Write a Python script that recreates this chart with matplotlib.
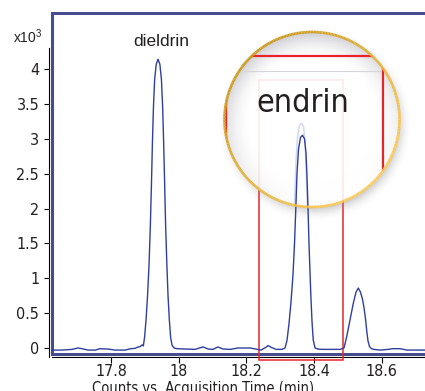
import numpy as np
import matplotlib
matplotlib.use('Agg')
import matplotlib.pyplot as plt
import matplotlib.transforms as mtransforms
from matplotlib import font_manager
from matplotlib.patches import Circle, Rectangle
from matplotlib.lines import Line2D
from matplotlib.collections import LineCollection

# chromatogram trace: acquisition time (min) vs counts (x10^3)
time_min = [
    17.626, 17.655, 17.685, 17.702, 17.714, 17.732, 17.753, 17.767, 17.791, 17.812,
    17.841, 17.859, 17.871, 17.880, 17.886, 17.892,
    # dieldrin
    17.8954, 17.8990, 17.9034, 17.9079, 17.9123, 17.9161, 17.9194, 17.9223, 17.9253,
    17.9288, 17.9336, 17.9389, 17.9442, 17.9489, 17.9525, 17.9554, 17.9584, 17.9613,
    17.9649, 17.9684, 17.9723, 17.9761, 17.9803, 17.9862, 17.9950,
    18.048, 18.072, 18.087, 18.101, 18.116, 18.131, 18.152, 18.175, 18.211, 18.228,
    18.243, 18.258, 18.264, 18.273, 18.288, 18.305,
    # endrin
    18.3142, 18.3201, 18.3260, 18.3319, 18.3378, 18.3423, 18.3461, 18.3496, 18.3541,
    18.3600, 18.3659, 18.3718, 18.3762, 18.3792, 18.3822, 18.3851, 18.3881, 18.3911,
    18.3940, 18.3975, 18.4029, 18.4117,
    18.423, 18.447, 18.477,
    # unknown late peak
    18.4885, 18.4965, 18.5063, 18.5160, 18.5240, 18.5308, 18.5373, 18.5432, 18.5476,
    18.5521, 18.5559, 18.5595, 18.5639, 18.5698, 18.5772,
    18.595, 18.619, 18.633, 18.654, 18.675, 18.698, 18.728,
]
counts_k = [
    -0.03, -0.03, -0.02, 0.0, -0.01, -0.03, -0.03, -0.01, -0.015, -0.03,
    -0.03, -0.01, -0.005, 0.015, 0.02, 0.045,
    0.03, 0.15, 0.40, 0.75, 1.20, 1.75, 2.35, 2.95, 3.45,
    3.85, 4.07, 4.14, 4.07, 3.85, 3.45, 2.95, 2.35, 1.75,
    1.20, 0.75, 0.40, 0.15, 0.04, 0.0, -0.01,
    -0.02, 0.015, -0.015, -0.02, 0.015, -0.015, -0.02, 0.0, 0.0, -0.015,
    -0.03, 0.01, 0.035, 0.01, -0.02, -0.02,
    0.0, 0.11, 0.35, 0.66, 1.05, 1.50, 2.00, 2.50, 2.85,
    3.02, 3.05, 3.00, 2.80, 2.45, 2.00, 1.50, 1.08, 0.69,
    0.38, 0.12, 0.0, -0.015,
    -0.02, -0.02, -0.02,
    0.0, 0.16, 0.40, 0.64, 0.80, 0.86, 0.80, 0.70, 0.58,
    0.42, 0.24, 0.10, 0.02, -0.01, -0.02,
    -0.03, -0.02, -0.01, -0.01, -0.03, -0.03, -0.03,
]

# endrin integration window (min, x10^3 counts)
window_time = [18.237, 18.486]
window_counts = [-0.172, 3.84]

xticks = [17.8, 18.0, 18.2, 18.4, 18.6]
xtick_labels = ['17.8', '18', '18.2', '18.4', '18.6']
yticks = [0, 0.5, 1, 1.5, 2, 2.5, 3, 3.5, 4]
ytick_labels = ['0', '0.5', '1', '1.5', '2', '2.5', '3', '3.5', '4']

# pick a condensed face for the axis text if there is one
ttf = font_manager.fontManager.ttflist
if any(f.name == 'Liberation Sans Narrow' for f in ttf):
    NARROW = ['Liberation Sans Narrow', 'DejaVu Sans']
elif any(f.name == 'DejaVu Sans' and f.stretch == 'condensed' for f in ttf):
    NARROW = ['DejaVu Sans']
    plt.rcParams['font.stretch'] = 'condensed'
else:
    NARROW = ['Liberation Sans', 'DejaVu Sans']
REGULAR = ['Liberation Sans', 'DejaVu Sans']
plt.rcParams['font.family'] = NARROW
plt.rcParams['mathtext.fontset'] = 'custom'
plt.rcParams['mathtext.rm'] = 'Liberation Sans'

TEXT = '#231f20'
NAVY = '#474c8e'
TRACE = '#2e3f9e'
RED = '#e8242b'

W, H = 425, 391
fig = plt.figure(figsize=(W / 100, H / 100), dpi=100)
ax = fig.add_axes([52.2 / W, (H - 353.5) / H, (W - 52.2) / W, (353.5 - 12.8) / H])
inch = fig.dpi_scale_trans

# --- magnifier lens (pixel geometry, origin top-left) ---
cx, cy, R = 312.0, 119.5, 87.5
x0, x1, y0, y1 = 214, 424, 22, 234
X, Y = np.meshgrid(np.arange(x0, x1) + 0.5, np.arange(y0, y1) + 0.5)
dx, dy = X - cx, Y - cy
r = np.hypot(dx, dy)
theta = np.arctan2(-dy, dx)
inside = r <= R
edge = np.clip(1 - (R - r) / 24, 0, 1) ** 1.6
weight = 0.5 + 0.5 * np.sin(theta - np.radians(20))
shade = 0.22 * edge * weight
rgba = np.zeros(X.shape + (4,))
rgba[..., 0] = 1 - shade
rgba[..., 1] = 1 - shade
rgba[..., 2] = 1 - 0.9 * shade
rgba[..., 3] = np.where(inside, 0.9, 0.0)
rs = np.hypot(X - cx - 3, Y - cy - 5)
drop = 0.4 * np.clip(1 - (rs - R + 4) / 14, 0, 1) ** 2
outside = ~inside
rgba[outside, :3] = 0.55
rgba[outside, 3] = drop[outside]
ax.imshow(rgba, extent=(x0 / 100, x1 / 100, (H - y1) / 100, (H - y0) / 100),
          transform=inch, origin='upper', interpolation='bilinear',
          aspect='auto', zorder=6)

lens = Circle((cx / 100, (H - cy) / 100), R / 100, transform=inch,
              facecolor='none', edgecolor='none')

# window box underneath the lens
ax.add_patch(Rectangle((window_time[0], window_counts[0]),
                       window_time[1] - window_time[0],
                       window_counts[1] - window_counts[0],
                       fill=False, edgecolor=RED, lw=1.1, clip_on=False, zorder=5))

# magnified window edges seen through the lens
zoom_frame = Line2D([2.26, 2.26, 3.83, 3.83], [0.5, 3.355, 3.355, 0.5],
                    transform=inch, color=RED, lw=1.6, zorder=6.3)
zoom_frame.set_clip_path(lens)
ax.add_line(zoom_frame)
faint = Line2D([2.0, 4.2], [3.20, 3.20], transform=inch, color='#d6d6da',
               lw=0.8, zorder=6.2)
faint.set_clip_path(lens)
ax.add_line(faint)

lbl = ax.text(3.028, 2.793, 'endrin', transform=inch, ha='center', va='baseline',
              fontsize=23, color=TEXT, zorder=6.5)
lbl.set_clip_path(lens)

# soft ghost of the trace inside the lens
ghost_tr = mtransforms.offset_copy(ax.transData, fig=fig, x=-1, y=12, units='dots')
ghost, = ax.plot(time_min, counts_k, color='#d3d8ee', lw=1.1, zorder=6.8,
                 transform=ghost_tr)
ghost.set_clip_path(lens)

ax.plot(time_min, counts_k, color=TRACE, lw=1.0, zorder=7, clip_on=False)

# lens rim, dark gold top-left to light gold bottom-right
ang = np.linspace(0, 2 * np.pi, 361)
px = (cx + R * np.cos(ang)) / 100
py = (H - cy + R * np.sin(ang)) / 100
segs = [[(px[i], py[i]), (px[i + 1], py[i + 1])] for i in range(360)]
mid = (ang[:-1] + ang[1:]) / 2
t = (1 - np.cos(mid - np.radians(135))) / 2
c0 = np.array([0.80, 0.60, 0.10])
c1 = np.array([1.00, 0.80, 0.35])
cols = c0 + (c1 - c0) * t[:, None]
ax.add_collection(LineCollection(segs, colors=cols, linewidths=1.9,
                                 transform=inch, zorder=8))

# navy frame around the plot area
ax.add_line(Line2D([1, 0, 0, 1], [1, 1, 0, 0], transform=ax.transAxes, color=NAVY,
                   lw=2.2, clip_on=False, zorder=4, solid_joinstyle='miter'))

ax.set_xlim(17.626, 18.728)
ax.set_ylim(-0.079, 4.806)

for side in ['top', 'right']:
    ax.spines[side].set_visible(False)
ax.spines['left'].set_position(('outward', 2.2))
ax.spines['bottom'].set_position(('outward', 2.2))
ax.spines['left'].set_bounds(-0.129, 4.297)
for side in ['left', 'bottom']:
    ax.spines[side].set_color('black')
    ax.spines[side].set_linewidth(0.8)

ax.set_xticks(xticks)
ax.set_xticklabels(xtick_labels)
ax.set_yticks(yticks)
ax.set_yticklabels(ytick_labels)
ax.tick_params(axis='y', direction='out', length=3.6, width=0.8, pad=3.6,
               labelsize=11.5, labelcolor=TEXT)
ax.tick_params(axis='x', direction='out', length=4.3, width=0.8, pad=1.0,
               labelsize=11.5, labelcolor=TEXT)

ax.text(17.949, 4.325, 'dieldrin', ha='center', va='baseline', fontsize=12.5,
        color=TEXT, family=REGULAR)
fig.text(13 / W, (H - 43.3) / H, r'x10$^{3}$', ha='left', va='baseline',
         fontsize=10, color=TEXT, family=REGULAR)
fig.text(203.5 / W, (H - 393.5) / H, 'Counts vs. Acquisition Time (min)',
         ha='center', va='baseline', fontsize=10.5, color=TEXT)

fig.savefig('out.png', dpi=100)
